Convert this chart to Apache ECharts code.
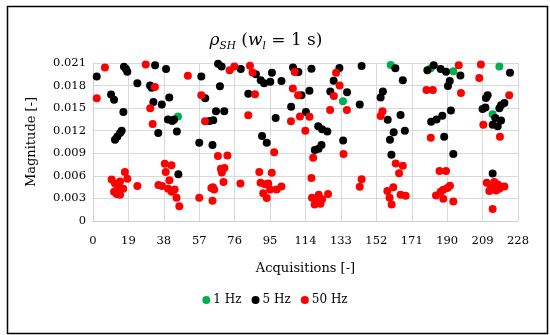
<!DOCTYPE html>
<html>
<head>
<meta charset="utf-8">
<script src="https://cdn.jsdelivr.net/npm/echarts@6/dist/echarts.min.js"></script>
<style>
html,body{margin:0;padding:0;background:#fff;}
#chart{width:550px;height:335px;}
</style>
</head>
<body>
<div id="chart"></div>
<script>
const xTicks = [0,19,38,57,76,95,114,133,152,171,190,209,228];
const yTicks = [0,0.003,0.006,0.009,0.012,0.015,0.018,0.021];
const seriesNames = ['1 Hz','5 Hz','50 Hz'];

const points1Hz = [[45.6,0.0139],[134.1,0.0159],[159.7,0.02075],[181.2,0.0203],[193.3,0.0199],[218.0,0.02055],[214.4,0.0142]];

const points5Hz = [
[2.0,0.0192],[16.6,0.0205],[17.7,0.0202],[18.4,0.01985],[9.7,0.0168],[11.3,0.0161],[16.3,0.0145],[11.8,0.0108],[13.0,0.0112],[14.5,0.0117],[15.4,0.0120],[23.8,0.0183],[33.3,0.0207],[39.2,0.0202],[30.6,0.0180],[31.5,0.0177],[32.4,0.0158],[36.9,0.0155],[40.9,0.0164],[35.0,0.0117],[40.2,0.0135],[42.5,0.0133],[43.5,0.0135],[45.0,0.0119],[45.8,0.0062],
[58.1,0.0192],[67.1,0.0209],[69.0,0.02055],[79.3,0.0202],[68.1,0.0179],[60.2,0.0163],[66.0,0.0146],[70.4,0.0146],[62.5,0.0133],[64.5,0.0134],[57.0,0.0104],[64.1,0.0101],[83.3,0.0169],[87.4,0.0195],[90.0,0.0187],[90.7,0.0113],[93.2,0.0104],
[91.8,0.0183],[95.1,0.0185],[96.0,0.0197],[101.1,0.0186],[107.3,0.0204],[110.2,0.0198],[117.2,0.02025],[116.1,0.0173],[111.8,0.0167],[106.3,0.0152],[98.0,0.0137],[114.2,0.0145],[120.8,0.0126],[122.9,0.0122],[125.7,0.0119],[122.6,0.0101],[121.0,0.0096],[119.0,0.00945],[132.2,0.02035],[129.1,0.01865],[127.3,0.0172],[136.3,0.0171],[134.2,0.0107],
[144.1,0.0206],[143.1,0.0155],[155.5,0.0172],[154.3,0.0164],[162.2,0.0203],[166.2,0.0187],[158.1,0.01345],[165.0,0.0141],[161.3,0.0118],[167.3,0.0120],[159.3,0.0108],[160.1,0.0088],
[179.4,0.02005],[182.8,0.0207],[186.5,0.0202],[189.4,0.01985],[191.4,0.0186],[190.4,0.01795],[197.1,0.01935],[181.4,0.0132],[184.3,0.0135],[187.4,0.0140],[192.0,0.0147],[188.4,0.0112],[193.3,0.0089],
[223.7,0.0197],[211.7,0.0167],[210.8,0.01635],[209.0,0.0149],[210.5,0.0151],[218.9,0.0154],[220.7,0.0157],[218.0,0.0150],[215.8,0.0137],[218.9,0.01335],[214.4,0.0128],[217.1,0.0126],[214.4,0.0063]
];

const points50Hz = [
[6.4,0.0204],[28.3,0.0208],[2.0,0.0163],[33.2,0.0178],[30.7,0.0150],[32.0,0.0129],
[10.0,0.0055],[11.8,0.0050],[14.5,0.00525],[13.6,0.0045],[17.1,0.0065],[18.4,0.0056],[11.3,0.0039],[12.7,0.0036],[14.5,0.0035],[16.2,0.0043],[23.8,0.00465],
[38.5,0.0076],[42.1,0.0074],[39.0,0.0065],[41.0,0.0054],[35.1,0.0048],[37.0,0.00465],[40.3,0.0043],[43.8,0.0042],[44.8,0.0031],[46.3,0.00195],[42.2,0.0039],
[50.9,0.0193],[73.3,0.02005],[75.8,0.02055],[84.2,0.02065],[85.6,0.01975],[58.1,0.0167],[86.9,0.01685],[60.1,0.01325],[83.3,0.01405],
[67.0,0.00865],[72.1,0.0087],[68.6,0.00695],[70.5,0.00705],[69.1,0.00645],[70.0,0.0052],[79.1,0.0050],[63.5,0.0044],[65.0,0.0042],[64.3,0.0045],[57.0,0.0031],[64.1,0.0027],
[89.2,0.0065],[95.9,0.0064],[89.9,0.0051],[94.0,0.0050],[91.3,0.0037],[93.2,0.00305],[95.0,0.0042],[98.5,0.0042],[101.1,0.0046],[92.3,0.0049],
[108.2,0.0198],[130.4,0.0197],[132.3,0.0180],[107.2,0.0176],[110.0,0.0167],[129.2,0.0166],[127.2,0.01475],[136.2,0.01475],[111.0,0.0139],[116.1,0.01385],[106.2,0.01325],[113.9,0.0120],[97.2,0.00915],[134.4,0.0089],[118.1,0.0084],[117.2,0.0057],
[117.5,0.0031],[121.1,0.0035],[120.2,0.00265],[122.9,0.0029],[126.1,0.0036],[118.9,0.0022],[122.0,0.0023],
[155.3,0.0146],[154.3,0.01395],[178.9,0.0174],[182.3,0.0174],[181.2,0.01105],[162.4,0.00765],[166.2,0.00735],[164.2,0.00635],[144.1,0.00555],[143.1,0.00455],[161.1,0.0045],[157.9,0.0040],[159.1,0.0031],[160.2,0.0022],[165.0,0.0035],[167.7,0.00335],
[196.2,0.0207],[208.1,0.0208],[207.2,0.0190],[197.4,0.0170],[223.3,0.0167],[209.4,0.0128],[218.3,0.0112],[185.9,0.00665],[189.4,0.00665],[191.5,0.0047],[190.1,0.0044],[187.9,0.00415],[186.5,0.0039],[184.0,0.0034],[187.9,0.00295],[193.3,0.0026],
[211.2,0.0051],[213.5,0.0046],[215.3,0.0052],[217.1,0.00486],[218.9,0.0046],[220.7,0.0046],[212.6,0.0040],[216.2,0.00406],[218.0,0.0043],[214.4,0.0016]
];

const FONT = '"DejaVu Serif", "Liberation Serif", serif';
const chart = echarts.init(document.getElementById('chart'), null, {renderer: 'canvas'});
const xStep = xTicks[1] - xTicks[0];
const yStep = yTicks[1] - yTicks[0];

chart.setOption({
  animation: false,
  backgroundColor: '#ffffff',
  textStyle: {fontFamily: FONT, color: '#000'},
  title: {
    text: '{r|ρ}{s|SH}{n| (}{r|w}{s|l}{n| = 1 s)}',
    left: 261, top: 25, textAlign: 'center',
    textStyle: {
      fontWeight: 'normal',
      rich: {
        r: {fontFamily: FONT, fontSize: 17, fontStyle: 'italic', fontWeight: 'normal', color: '#000', lineHeight: 22, verticalAlign: 'middle'},
        n: {fontFamily: FONT, fontSize: 17, fontWeight: 'normal', color: '#000', lineHeight: 22, verticalAlign: 'middle'},
        s: {fontFamily: FONT, fontSize: 10.5, fontStyle: 'italic', fontWeight: 'normal', color: '#000', lineHeight: 11, verticalAlign: 'bottom'}
      }
    }
  },
  graphic: [{
    type: 'rect', left: 5, top: 4, z: 100, silent: true,
    shape: {width: 540, height: 327},
    style: {fill: 'none', stroke: '#000', lineWidth: 1.5}
  }],
  legend: {
    data: seriesNames,
    top: 289, left: 'center',
    icon: 'circle', itemWidth: 8, itemHeight: 8, itemGap: 10,
    textStyle: {fontFamily: FONT, fontSize: 12, color: '#000', padding: [0,0,0,-2]}
  },
  grid: {left: 93, right: 32, top: 63, bottom: 114},
  xAxis: {
    type: 'value', min: xTicks[0], max: xTicks[xTicks.length-1], interval: xStep,
    name: 'Acquisitions [-]', nameLocation: 'middle', nameGap: 41,
    nameTextStyle: {fontFamily: FONT, fontSize: 13, color: '#000'},
    axisLine: {show: true, lineStyle: {color: '#d0d0d0', width: 1}},
    axisTick: {show: false},
    axisLabel: {fontFamily: FONT, fontSize: 11.5, color: '#000', margin: 14},
    splitLine: {show: true, lineStyle: {color: '#d9d9d9', width: 1}}
  },
  yAxis: {
    type: 'value', min: yTicks[0], max: yTicks[yTicks.length-1], interval: yStep,
    name: 'Magnitude [-]', nameLocation: 'middle', nameGap: 55,
    nameTextStyle: {fontFamily: FONT, fontSize: 13, color: '#000'},
    axisLine: {show: true, lineStyle: {color: '#d0d0d0', width: 1}},
    axisTick: {show: false},
    axisLabel: {fontFamily: FONT, fontSize: 11.5, color: '#000', margin: 7,
      formatter: v => v === 0 ? '0' : v.toFixed(3)},
    splitLine: {show: true, lineStyle: {color: '#d9d9d9', width: 1}}
  },
  series: [
    {name: seriesNames[0], type: 'scatter', data: points1Hz, symbolSize: 8, itemStyle: {color: '#00b050', opacity: 1}, z: 2},
    {name: seriesNames[1], type: 'scatter', data: points5Hz, symbolSize: 8, itemStyle: {color: '#000000', opacity: 1}, z: 3},
    {name: seriesNames[2], type: 'scatter', data: points50Hz, symbolSize: 8, itemStyle: {color: '#ff0000', opacity: 1}, z: 4}
  ]
});
</script>
</body>
</html>
